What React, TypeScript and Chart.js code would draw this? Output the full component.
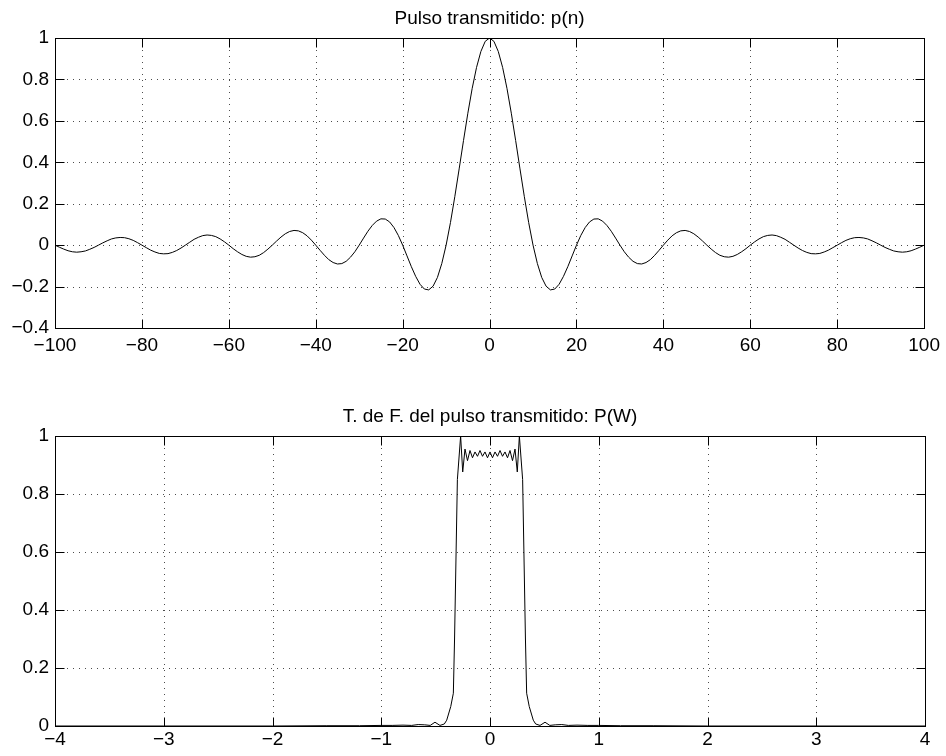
import React, { useEffect, useRef } from 'react';
import { Chart, registerables } from 'chart.js';

Chart.register(...registerables);

const FONT = '"Liberation Sans", Arial, Helvetica, sans-serif';

// ---------- Data: top plot (p(n), n = -100 ... 100) ----------
const pulseTitle = 'Pulso transmitido: p(n)';
const pulseStart = -100;
const pulseP = [
  0.000, -0.010, -0.019, -0.027, -0.032, -0.034, -0.032, -0.028, -0.020, -0.011,
  0.000, 0.011, 0.021, 0.030, 0.035, 0.037, 0.036, 0.031, 0.023, 0.012,
  0.000, -0.012, -0.024, -0.033, -0.040, -0.042, -0.041, -0.035, -0.026, -0.014,
  0.000, 0.014, 0.028, 0.038, 0.046, 0.049, 0.047, 0.041, 0.030, 0.016,
  0.000, -0.017, -0.032, -0.045, -0.054, -0.058, -0.056, -0.049, -0.036, -0.019,
  0.000, 0.020, 0.039, 0.055, 0.066, 0.071, 0.069, 0.060, 0.045, 0.024,
  0.000, -0.025, -0.049, -0.070, -0.084, -0.091, -0.089, -0.078, -0.058, -0.032,
  0.000, 0.034, 0.067, 0.095, 0.116, 0.127, 0.126, 0.112, 0.085, 0.047,
  0.000, -0.052, -0.104, -0.151, -0.189, -0.212, -0.216, -0.198, -0.156, -0.089,
  0.000, 0.109, 0.234, 0.368, 0.505, 0.637, 0.757, 0.858, 0.935, 0.984,
  1.000,
  0.984, 0.935, 0.858, 0.757, 0.637, 0.505, 0.368, 0.234, 0.109, 0.000,
  -0.089, -0.156, -0.198, -0.216, -0.212, -0.189, -0.151, -0.104, -0.052, 0.000,
  0.047, 0.085, 0.112, 0.126, 0.127, 0.116, 0.095, 0.067, 0.034, 0.000,
  -0.032, -0.058, -0.078, -0.089, -0.091, -0.084, -0.070, -0.049, -0.025, 0.000,
  0.024, 0.045, 0.060, 0.069, 0.071, 0.066, 0.055, 0.039, 0.020, 0.000,
  -0.019, -0.036, -0.049, -0.056, -0.058, -0.054, -0.045, -0.032, -0.017, 0.000,
  0.016, 0.030, 0.041, 0.047, 0.049, 0.046, 0.038, 0.028, 0.014, 0.000,
  -0.014, -0.026, -0.035, -0.041, -0.042, -0.040, -0.033, -0.024, -0.012, 0.000,
  0.012, 0.023, 0.031, 0.036, 0.037, 0.035, 0.030, 0.021, 0.011, 0.000,
  -0.011, -0.020, -0.028, -0.032, -0.034, -0.032, -0.027, -0.019, -0.010, 0.000,
];
const pulseN = pulseP.map((_, i) => pulseStart + i);
const pulseXTicks = [-100, -80, -60, -40, -20, 0, 20, 40, 60, 80, 100];
const pulseYTicks = [-0.4, -0.2, 0, 0.2, 0.4, 0.6, 0.8, 1];

// ---------- Data: bottom plot (P(W)) ----------
const specTitle = 'T. de F. del pulso transmitido: P(W)';
const specW = [
  -4, -3, -2, -1.5, -1.2, -1, -0.9, -0.8, -0.72, -0.66, -0.6, -0.55, -0.506, -0.46, -0.42,
  -0.398, -0.361, -0.337, -0.326, -0.30, -0.27, -0.251,
  -0.23, -0.207, -0.184, -0.161, -0.138, -0.115, -0.092, -0.069, -0.046, -0.023, 0,
  0.023, 0.046, 0.069, 0.092, 0.115, 0.138, 0.161, 0.184, 0.207, 0.23,
  0.251, 0.27, 0.30, 0.326, 0.337, 0.361, 0.398,
  0.42, 0.46, 0.506, 0.55, 0.6, 0.66, 0.72, 0.8, 0.9, 1, 1.2, 1.5, 2, 3, 4,
];
const specP = [
  0, 0, 0, 0.001, 0.001, 0.002, 0.002, 0.003, 0.002, 0.005, 0.004, 0.002, 0.013, 0.002, 0.007,
  0.02, 0.067, 0.113, 0.3, 0.85, 1.0, 0.876,
  0.955, 0.915, 0.95, 0.925, 0.945, 0.93, 0.95, 0.93, 0.945, 0.925, 0.945,
  0.925, 0.945, 0.93, 0.95, 0.93, 0.945, 0.925, 0.95, 0.915, 0.955,
  0.876, 1.0, 0.85, 0.3, 0.113, 0.067, 0.02,
  0.007, 0.002, 0.013, 0.002, 0.004, 0.005, 0.002, 0.003, 0.002, 0.002, 0.001, 0.001, 0, 0, 0,
];
const specXTicks = [-4, -3, -2, -1, 0, 1, 2, 3, 4];
const specYTicks = [0, 0.2, 0.4, 0.6, 0.8, 1];

const fmt = (v: number) => String(Math.round(v * 10) / 10).replace('-', '\u2212');

function matlabFrame(title: string) {
  return {
    id: 'matlabFrame',
    beforeDatasetsDraw(chart: any) {
      const { ctx, chartArea: a, scales } = chart;
      ctx.save();
      ctx.strokeStyle = 'rgba(0,0,0,0.7)';
      ctx.lineWidth = 1;
      ctx.setLineDash([1, 5]);
      ctx.beginPath();
      scales.x.ticks.forEach((t: any) => {
        const px = Math.round(scales.x.getPixelForValue(t.value)) + 0.5;
        if (px <= a.left + 2 || px >= a.right - 2) return;
        ctx.moveTo(px, a.top);
        ctx.lineTo(px, a.bottom);
      });
      scales.y.ticks.forEach((t: any) => {
        const py = Math.round(scales.y.getPixelForValue(t.value)) + 0.5;
        if (py <= a.top + 2 || py >= a.bottom - 2) return;
        ctx.moveTo(a.left, py);
        ctx.lineTo(a.right, py);
      });
      ctx.stroke();
      ctx.restore();
    },
    afterDatasetsDraw(chart: any) {
      const { ctx, chartArea: a, scales } = chart;
      const L = Math.round(a.left) + 0.5;
      const R = Math.round(a.right) + 0.5;
      const T = Math.round(a.top) + 0.5;
      const B = Math.round(a.bottom) + 0.5;
      const tl = 9;
      ctx.save();
      ctx.setLineDash([]);
      ctx.strokeStyle = '#000';
      ctx.lineWidth = 1;
      ctx.beginPath();
      scales.x.ticks.forEach((t: any) => {
        const px = Math.round(scales.x.getPixelForValue(t.value)) + 0.5;
        ctx.moveTo(px, B);
        ctx.lineTo(px, B - tl);
        ctx.moveTo(px, T);
        ctx.lineTo(px, T + tl);
      });
      scales.y.ticks.forEach((t: any) => {
        const py = Math.round(scales.y.getPixelForValue(t.value)) + 0.5;
        ctx.moveTo(L, py);
        ctx.lineTo(L + tl, py);
        ctx.moveTo(R, py);
        ctx.lineTo(R - tl, py);
      });
      ctx.stroke();
      ctx.strokeRect(L, T, R - L, B - T);
      ctx.fillStyle = '#000';
      ctx.font = `19px ${FONT}`;
      ctx.textAlign = 'center';
      ctx.textBaseline = 'alphabetic';
      ctx.fillText(title, (a.left + a.right) / 2, a.top - 14);
      ctx.restore();
    },
  };
}

function makeConfig(opts: {
  xs: number[]; ys: number[]; xTicks: number[]; yTicks: number[];
  title: string; padTop: number; xAxisH: number; xPad: number;
}) {
  const { xs, ys, xTicks, yTicks, title, padTop, xAxisH, xPad } = opts;
  const tickFont = { family: FONT, size: 19 };
  return {
    type: 'line' as const,
    data: {
      datasets: [
        {
          data: xs.map((x, i) => ({ x, y: ys[i] })),
          borderColor: '#000',
          borderWidth: 1,
          pointRadius: 0,
          tension: 0,
          fill: false,
        },
      ],
    },
    options: {
      responsive: false,
      animation: false as const,
      events: [],
      layout: { padding: { top: padTop, right: 21, left: 0, bottom: 0 } },
      plugins: { legend: { display: false }, tooltip: { enabled: false }, title: { display: false } },
      scales: {
        x: {
          type: 'linear' as const,
          min: xTicks[0],
          max: xTicks[xTicks.length - 1],
          afterBuildTicks: (s: any) => { s.ticks = xTicks.map((v) => ({ value: v })); },
          ticks: {
            autoSkip: false, maxRotation: 0, minRotation: 0, padding: xPad,
            color: '#000', font: tickFont, callback: (v: any) => fmt(Number(v)),
          },
          grid: { display: false, drawTicks: false },
          border: { display: false },
          afterFit: (s: any) => { s.height = xAxisH; },
        },
        y: {
          type: 'linear' as const,
          min: yTicks[0],
          max: yTicks[yTicks.length - 1],
          afterBuildTicks: (s: any) => { s.ticks = yTicks.map((v) => ({ value: v })); },
          ticks: {
            autoSkip: false, padding: 6, color: '#000', font: tickFont,
            callback: (v: any) => fmt(Number(v)),
          },
          grid: { display: false, drawTicks: false },
          border: { display: false },
          afterFit: (s: any) => { s.width = 55; },
        },
      },
    },
    plugins: [matlabFrame(title)],
  };
}

function Plot(props: { cfg: any; top: number }) {
  const ref = useRef<HTMLCanvasElement | null>(null);
  useEffect(() => {
    if (!ref.current) return;
    const chart = new Chart(ref.current, props.cfg);
    return () => chart.destroy();
  }, []);
  return (
    <canvas
      ref={ref}
      width={946}
      height={378}
      style={{ position: 'absolute', left: 0, top: props.top, width: 946, height: 378, display: 'block' }}
    />
  );
}

export default function App() {
  useEffect(() => {
    document.body.style.margin = '0';
    document.body.style.background = '#fff';
  }, []);
  const topCfg = makeConfig({
    xs: pulseN, ys: pulseP, xTicks: pulseXTicks, yTicks: pulseYTicks,
    title: pulseTitle, padTop: 38, xAxisH: 50, xPad: 6,
  });
  const botCfg = makeConfig({
    xs: specW, ys: specP, xTicks: specXTicks, yTicks: specYTicks,
    title: specTitle, padTop: 58, xAxisH: 30, xPad: 2,
  });
  return (
    <div style={{ position: 'relative', width: 946, height: 756, background: '#fff', overflow: 'hidden' }}>
      <Plot cfg={topCfg} top={0} />
      <Plot cfg={botCfg} top={378} />
    </div>
  );
}
